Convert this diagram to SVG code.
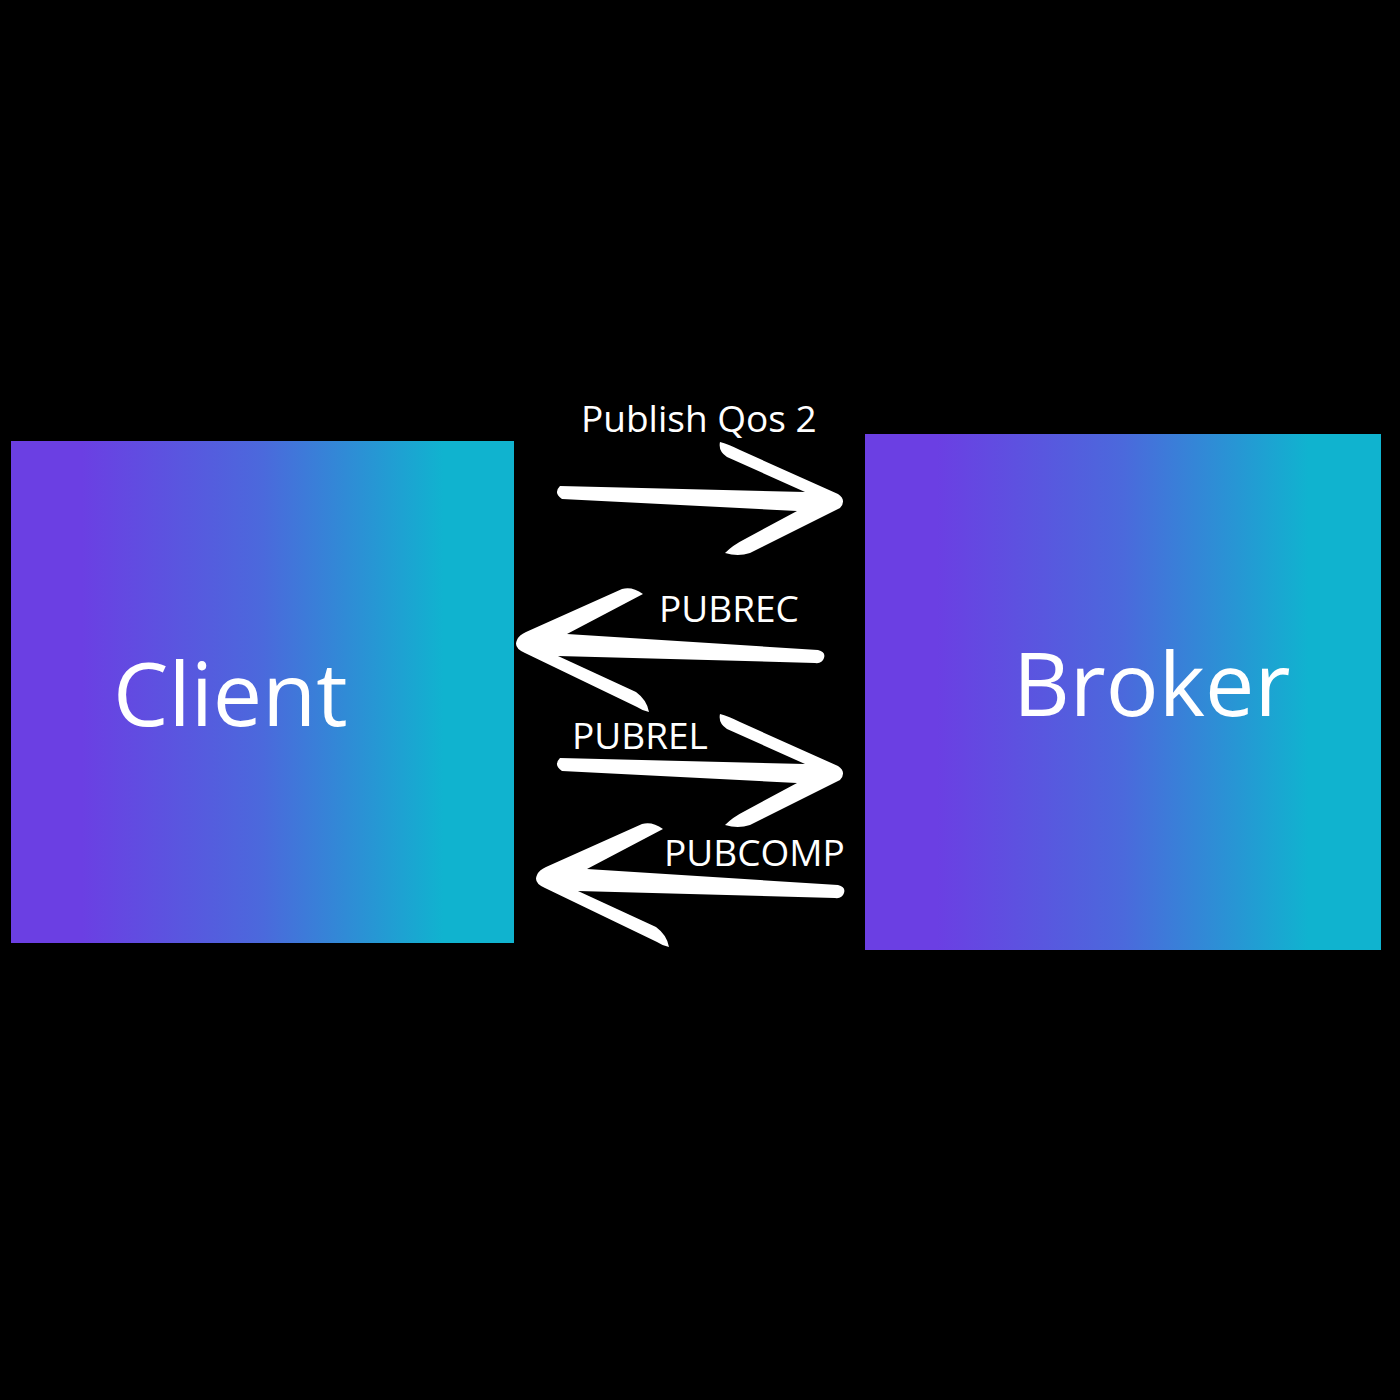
<svg xmlns="http://www.w3.org/2000/svg" width="1400" height="1400" viewBox="0 0 1400 1400">
  <defs>
    <linearGradient id="grad" x1="0" y1="0" x2="1" y2="0">
      <stop offset="0" stop-color="#6b3fe3"/>
      <stop offset="0.14" stop-color="#6b3fe3"/>
      <stop offset="0.5" stop-color="#4b69dc"/>
      <stop offset="0.86" stop-color="#10b3cf"/>
      <stop offset="1" stop-color="#10b3cf"/>
    </linearGradient>
    <path id="arrowRight" d="M 560 486 L 805 492 L 727 457 Q 718 451 720 442 Q 728 444 740 450 L 838 494 Q 847 500 840 508 L 750 553 Q 738 557 725 553 Q 733 545 745 539 L 797 511 L 562 499 Q 553 493 560 486 Z"/>
    <path id="arrowLeft" d="M 517 640 Q 519 635 526 632 L 622 589 Q 632 586 643 594 L 567 634 L 818 650 Q 826 652 824 658 Q 822 664 815 663 L 558 656 L 636 692 Q 647 700 649 712 Q 643 711 637 707 L 525 653 Q 513 648 517 640 Z"/>
  </defs>
  <style>
    .box { fill: url(#grad); }
    .big { font-family: "Open Sans", "Noto Sans", "DejaVu Sans", sans-serif; font-size: 88px; fill: #ffffff; }
    .lbl { font-family: "Open Sans", "Noto Sans", "DejaVu Sans", sans-serif; font-size: 37px; fill: #ffffff; }
    .arrow { fill: #ffffff; }
  </style>
  <rect x="0" y="0" width="1400" height="1400" fill="#000000"/>

  <g id="client">
    <rect class="box" x="11" y="441" width="503" height="502"/>
    <text class="big" x="113" y="726">Client</text>
  </g>

  <g id="broker">
    <rect class="box" x="865" y="434" width="516" height="516"/>
    <text class="big" x="1013" y="716">Broker</text>
  </g>

  <g id="connectors">
    <g id="publish">
      <use href="#arrowRight" class="arrow"/>
      <text class="lbl" x="581" y="432">Publish Qos 2</text>
    </g>
    <g id="pubrec">
      <use href="#arrowLeft" class="arrow"/>
      <text class="lbl" x="659" y="622">PUBREC</text>
    </g>
    <g id="pubrel">
      <use href="#arrowRight" class="arrow" transform="translate(0,272)"/>
      <text class="lbl" x="572" y="749">PUBREL</text>
    </g>
    <g id="pubcomp">
      <use href="#arrowLeft" class="arrow" transform="translate(20,235)"/>
      <text class="lbl" x="664" y="866">PUBCOMP</text>
    </g>
  </g>
</svg>
